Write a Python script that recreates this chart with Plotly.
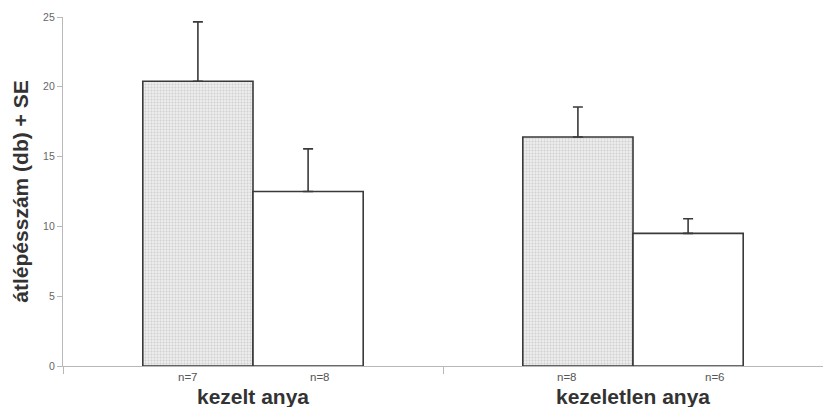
import plotly.graph_objects as go

# Group means and standard errors
groups = ["kezelt anya", "kezeletlen anya"]
series_a_values = [20.4, 16.4]
series_a_se = [4.25, 2.15]
series_a_n = ["n=7", "n=8"]
series_b_values = [12.5, 9.5]
series_b_se = [3.05, 1.05]
series_b_n = ["n=8", "n=6"]

y_ticks = [0, 5, 10, 15, 20, 25]

bar_line = dict(color="#3a3a3a", width=1.6)
err_style = dict(type="data", symmetric=False, color="#3a3a3a", thickness=1.6, width=5)

fig = go.Figure()
fig.add_trace(go.Bar(
    x=groups, y=series_a_values,
    error_y=dict(array=series_a_se, arrayminus=[0] * len(series_a_se), **err_style),
    marker=dict(
        color="#dcdcdc",
        line=bar_line,
        pattern=dict(shape=".", fgcolor="#b4b4b4", bgcolor="#ececec", size=3, solidity=0.35),
    ),
    showlegend=False,
))
fig.add_trace(go.Bar(
    x=groups, y=series_b_values,
    error_y=dict(array=series_b_se, arrayminus=[0] * len(series_b_se), **err_style),
    marker=dict(color="#ffffff", line=bar_line),
    showlegend=False,
))

# Sample sizes printed below the axis, left/right of each group centre
n_offsets = [(-0.17, 0.175), (-0.175, 0.215)]
for i, g in enumerate(groups):
    left_dx, right_dx = n_offsets[i]
    for label, dx in ((series_a_n[i], left_dx), (series_b_n[i], right_dx)):
        fig.add_annotation(
            x=i + dx, y=-0.032, xref="x", yref="paper", text=label, showarrow=False,
            font=dict(family="Arial, Liberation Sans, sans-serif", size=11.5, color="#555555"),
            yanchor="middle",
        )

fig.update_layout(
    width=823, height=407,
    margin=dict(l=63, r=0, t=17, b=41),
    paper_bgcolor="white", plot_bgcolor="white",
    barmode="group", bargap=0.42, bargroupgap=0,
    font=dict(family="Arial, Liberation Sans, sans-serif"),
)
fig.update_xaxes(
    type="category", range=[-0.5, 1.5],
    showline=True, linecolor="#b8b8b8", linewidth=1.2,
    ticks="outside", tickson="boundaries", ticklen=7, tickcolor="#b8b8b8", tickwidth=1.2,
    showgrid=False, zeroline=False,
    tickfont=dict(family="Arial, Liberation Sans, sans-serif", size=21, color="#333333", weight="bold"),
    ticklabelstandoff=12,
)
fig.update_yaxes(
    range=[0, 25], tickvals=y_ticks,
    showline=True, linecolor="#b8b8b8", linewidth=1.2,
    ticks="outside", ticklen=5, tickcolor="#b8b8b8",
    showgrid=False, zeroline=False,
    tickfont=dict(family="Arial, Liberation Sans, sans-serif", size=10.5, color="#666666"),
    title=dict(text="<b>átlépésszám (db) + SE</b>", standoff=8,
               font=dict(family="Arial, Liberation Sans, sans-serif", size=21, color="#333333")),
)

fig.write_html("out.html")
